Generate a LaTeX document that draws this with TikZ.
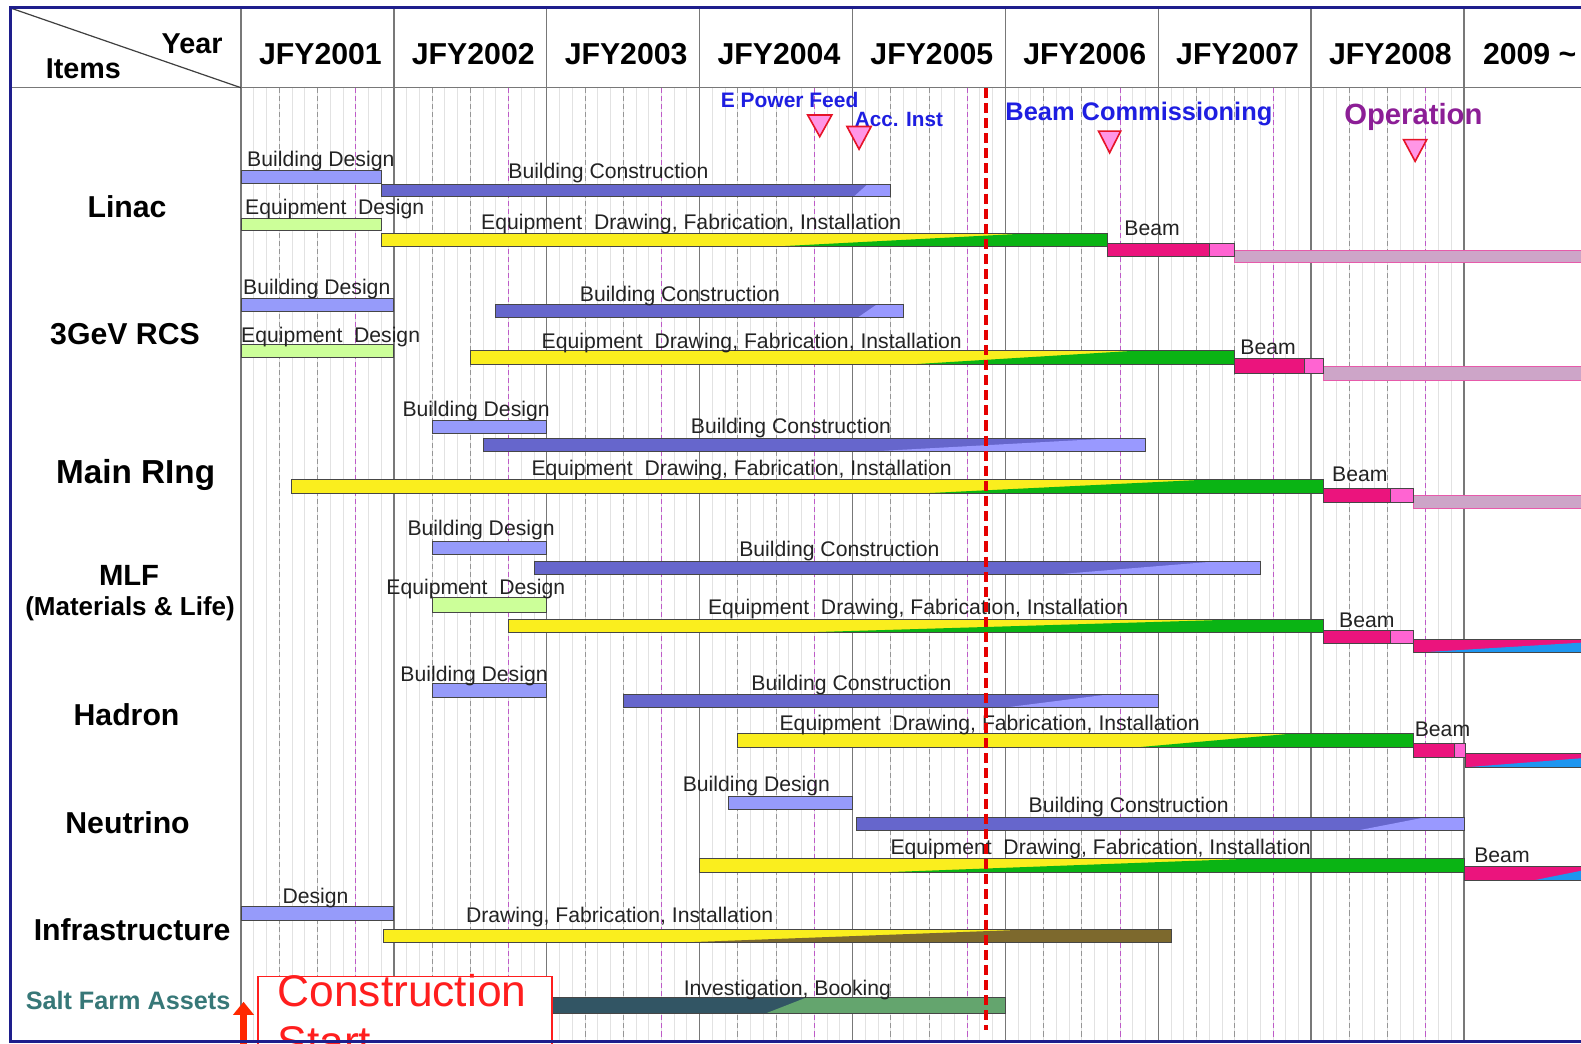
\documentclass[tikz,border=0pt]{standalone}
\usepackage{fontspec}
\setmainfont{Liberation Sans}
\usetikzlibrary{arrows.meta}
\definecolor{lblue}{RGB}{150,155,250}
\definecolor{dblue}{RGB}{102,102,204}
\definecolor{wblue}{RGB}{153,153,255}
\definecolor{lgreen}{RGB}{204,255,153}
\definecolor{yel}{RGB}{250,238,30}
\definecolor{grn}{RGB}{10,180,20}
\definecolor{mag}{RGB}{235,20,125}
\definecolor{pnk}{RGB}{255,100,210}
\definecolor{mauve}{RGB}{205,165,200}
\definecolor{mauveln}{RGB}{230,90,170}
\definecolor{sky}{RGB}{30,150,240}
\definecolor{olive}{RGB}{125,105,45}
\definecolor{sdark}{RGB}{50,85,100}
\definecolor{sgreen}{RGB}{100,165,110}
\definecolor{trifill}{RGB}{255,150,230}
\definecolor{triline}{RGB}{230,20,40}
\definecolor{navy}{RGB}{30,30,140}
\definecolor{gyear}{RGB}{120,120,120}
\definecolor{gmonth}{RGB}{226,226,226}
\definecolor{gq}{RGB}{150,150,150}
\definecolor{gmag}{RGB}{190,90,200}
\definecolor{lbltxt}{RGB}{35,35,35}
\definecolor{teal2}{RGB}{55,120,120}
\definecolor{ebl}{RGB}{30,30,225}
\definecolor{oper}{RGB}{140,30,150}
\definecolor{cred}{RGB}{255,30,30}
\definecolor{arred}{RGB}{255,40,0}
\definecolor{barln}{RGB}{70,70,70}
\newcommand\fs[1]{\fontsize{#1}{#1}\selectfont}
\newcommand\wbar[8]{%
  \fill[#5] (#1,#3) rectangle (#2,#4);
  \begin{scope}\clip (#1,#3) rectangle (#2,#4);
  \fill[#6] (#7,#4) -- (#8,#3) -- (200,#3) -- (200,#4) -- cycle;
  \end{scope}
  \draw[barline] (#1,#3) rectangle (#2,#4);}
\newcommand\beambar[5]{%
  \draw[barline,fill=mag] (#1,#4) rectangle (#2,#5);
  \draw[barline,fill=pnk] (#2,#4) rectangle (#3,#5);}
\newcommand\mauvebar[3]{\draw[draw=mauveln,line width=1pt,fill=mauve] (#1,#2) rectangle (112,#3);}
\tikzset{
  lbl/.style={anchor=west,inner sep=0pt,font=\fs{21},text=lbltxt,text height=15pt,text depth=0pt},
  rowl/.style={inner sep=0pt,font=\bfseries\fs{30},text height=21.5pt,text depth=0pt},
  ms/.style={anchor=west,inner sep=0pt,text height=15pt,text depth=0pt},
  barline/.style={draw=barln,line width=0.9pt},
  mline/.style={draw=gmonth,line width=0.8pt},
  qline/.style={draw=gq,line width=0.8pt,dash pattern=on 5pt off 3pt},
  jline/.style={draw=gmag,line width=0.8pt,dash pattern=on 5pt off 3pt},
  yline/.style={draw=gyear,line width=1.3pt},
  tri/.style={fill=trifill,draw=triline,line width=1.6pt,line join=miter},
  reddash/.style={draw=red!90!black,line width=4pt,dash pattern=on 10pt off 5pt},
  redarrow/.style={draw=arred,line width=6pt,-{Triangle[length=13pt,width=20pt]}},
}
\begin{document}
\begin{tikzpicture}[x=1pt,y=-1pt]
\useasboundingbox (0,0) rectangle (1568,1035);
\begin{scope}
\clip (0,0) rectangle (1568,1035);
\fill[white] (0,0) rectangle (1568,1035);
\begin{scope}[xshift=239pt,x=12.635pt]
  \foreach \k in {1,...,95} \draw[mline] (\k,87) -- (\k,1033);
  \foreach \yy in {0,...,7} {
    \draw[qline] (12*\yy+3,87) -- (12*\yy+3,1033);
    \draw[qline] (12*\yy+6,87) -- (12*\yy+6,1033);
    \draw[jline] (12*\yy+9,87) -- (12*\yy+9,1033);
  }
  \foreach \yy in {0,...,8} \draw[yline] (12*\yy,7) -- (12*\yy,1033);
  % Linac
  \draw[barline,fill=lblue] (0,169.5) rectangle (11,182);
  \wbar{11}{51}{182.5}{195}{dblue}{wblue}{48.1}{49.2}
  \draw[barline,fill=lgreen] (0,216.5) rectangle (11,229);
  \wbar{11}{68}{231.5}{244}{yel}{grn}{42.7}{61.8}
  \mauvebar{78}{248}{260}
  \beambar{68}{76}{78}{241}{254}
  % RCS
  \draw[barline,fill=lblue] (0,296) rectangle (12,308.5);
  \wbar{20}{52}{302}{315}{dblue}{wblue}{48.4}{49.9}
  \draw[barline,fill=lgreen] (0,342) rectangle (12,354.5);
  \wbar{18}{78}{348}{361}{yel}{grn}{53.1}{70}
  \mauvebar{85}{363}{377}
  \beambar{78}{83.5}{85}{356}{370}
  % Main Ring
  \draw[barline,fill=lblue] (15,417) rectangle (24,430);
  \wbar{19}{71}{435}{448}{dblue}{wblue}{49.1}{68}
  \wbar{4}{85}{476}{489}{yel}{grn}{54}{75.3}
  \mauvebar{92}{491.5}{504}
  \beambar{85}{90.25}{92}{484}{498}
  % MLF
  \draw[barline,fill=lblue] (15,537) rectangle (24,550);
  \wbar{23}{80}{557}{570}{dblue}{wblue}{63.7}{76.3}
  \draw[barline,fill=lgreen] (15,593) rectangle (24,607);
  \wbar{21}{85}{614}{627.5}{yel}{grn}{43.4}{79.3}
  \wbar{92}{112}{634}{647.5}{mag}{sky}{92}{109.6}
  \beambar{85}{90.25}{92}{625}{638.5}
  % Hadron
  \draw[barline,fill=lblue] (15,678) rectangle (24,692);
  \wbar{30}{72}{689}{702}{dblue}{wblue}{59.8}{67.9}
  \wbar{39}{92}{727}{741}{yel}{grn}{70.5}{83}
  \wbar{96.1}{112}{747}{761}{mag}{sky}{96.1}{110.3}
  \beambar{92}{95.25}{96.1}{737}{751}
  % Neutrino
  \draw[barline,fill=lblue] (38.25,790) rectangle (48,803);
  \wbar{48.3}{96}{811}{824}{dblue}{wblue}{87.5}{92.8}
  \wbar{36}{96}{851}{865}{yel}{grn}{50.7}{80.6}
  \wbar{96}{112}{859}{873}{mag}{sky}{101.5}{107}
  % Infrastructure
  \draw[barline,fill=lblue] (0,898.5) rectangle (12,913);
  \wbar{11.2}{73}{921.5}{935}{yel}{olive}{34}{62.7}
  % Salt farm
  \wbar{18}{60}{989}{1005}{sdark}{sgreen}{41.2}{44.45}
\end{scope}
% bar labels
\node[lbl] (a1) at (245,158) {Building Design};
\node[lbl] (a2) at (504,169.5) {Building Construction};
\node[lbl] (a3) at (243,205) {Equipment\ \ Design};
\node[lbl] (a4) at (477,220) {Equipment\ \ Drawing, Fabrication, Installation};
\node[lbl] (a5) at (1115,226) {Beam};
\node[lbl] (b1) at (241,285) {Building Design};
\node[lbl] (b2) at (575,292) {Building Construction};
\node[lbl] (b3) at (239,332) {Equipment\ \ Design};
\node[lbl] (b4) at (537,338) {Equipment\ \ Drawing, Fabrication, Installation};
\node[lbl] (b5) at (1230,344) {Beam};
\node[lbl] (c1) at (399,406) {Building Design};
\node[lbl] (c2) at (685,422) {Building Construction};
\node[lbl] (c4) at (527,464) {Equipment\ \ Drawing, Fabrication, Installation};
\node[lbl] (c5) at (1321,470) {Beam};
\node[lbl] (d1) at (404,524) {Building Design};
\node[lbl] (d2) at (733,544) {Building Construction};
\node[lbl] (d3) at (383,582) {Equipment\ \ Design};
\node[lbl] (d4) at (702,602) {Equipment\ \ Drawing, Fabrication, Installation};
\node[lbl] (d5) at (1328,615) {Beam};
\node[lbl] (e1) at (397,668) {Building Design};
\node[lbl] (e2) at (745,677) {Building Construction};
\node[lbl] (e4) at (773,717) {Equipment\ \ Drawing, Fabrication, Installation};
\node[lbl] (e5) at (1403,723) {Beam};
\node[lbl] (f1) at (677,777) {Building Design};
\node[lbl] (f2) at (1020,798) {Building Construction};
\node[lbl] (f4) at (883,840) {Equipment\ \ Drawing, Fabrication, Installation};
\node[lbl] (f5) at (1462,848) {Beam};
\node[lbl] (g1) at (280,889) {Design};
\node[lbl] (g2) at (462,907) {Drawing, Fabrication, Installation};
\node[lbl] (h1) at (678,980) {Investigation, Booking};
% milestones
\node[ms,font=\bfseries\fs{20.8},text=ebl] (epf) at (714.7,99.5) {E Power Feed};
\node[ms,font=\bfseries\fs{20.5},text=ebl] (acc) at (847.6,117.8) {Acc. Inst};
\node[ms,font=\bfseries\fs{25.2},text=ebl,text height=18pt] (bcm) at (997,111) {Beam Commissioning};
\node[ms,font=\bfseries\fs{29},text=oper,text height=21pt] (opr) at (1333,112.5) {Operation};
\draw[tri] (801,114) -- (825,114) -- (813,135.5) -- cycle;
\draw[tri] (840,125.5) -- (864,125.5) -- (852,148) -- cycle;
\draw[tri] (1089.5,130) -- (1111.5,130) -- (1100.5,151.5) -- cycle;
\draw[tri] (1392,138.5) -- (1415,138.5) -- (1403.5,160) -- cycle;
% today line
\draw[reddash] (978,87) -- (978,1022);
% construction start
\draw[draw=cred,line width=1.5pt,fill=white] (255.7,968.6) rectangle (547.7,1100);
\node[anchor=north west,inner sep=0pt,align=left,text=cred,font=\fontsize{44}{50}\selectfont] (cs) at (275,966.5) {Construction\\Start};
\coordinate (atail) at (241.5,1050);
\coordinate (atip) at (241.5,993.5);
\draw[redarrow] (atail) -- (atip);
% header
\draw[draw=gyear,line width=1.3pt] (10.6,87) -- (1575,87);
\draw[draw=black!75,line width=1.2pt] (12,8.5) -- (239,87);
\node[rowl,font=\bfseries\fs{28.5},text height=20.5pt] (yr) at (190.5,43) {Year};
\node[rowl,font=\bfseries\fs{28.5},text height=20.5pt] (it) at (82.7,67.8) {Items};
\foreach \i/\t in {0/JFY2001,1/JFY2002,2/JFY2003,3/JFY2004,4/JFY2005,5/JFY2006,6/JFY2007,7/JFY2008}
  \node[rowl] (yh\i) at ({242+151.6*(\i+0.5)},52.8) {\t};
\node[rowl,anchor=west] (yh8) at (1470.6,52.8) {2009 \textasciitilde};
% row labels
\node[rowl] (r1) at (126,205) {Linac};
\node[rowl] (r2) at (124,330.5) {3GeV RCS};
\node[rowl,font=\bfseries\fs{33},text height=23.6pt] (r3) at (134.5,468) {Main RIng};
\node[rowl,font=\bfseries\fs{29}] (r4) at (128,570) {MLF};
\node[rowl,font=\bfseries\fs{25.8},text height=18.5pt] (r4b) at (129,601.5) {(Materials \& Life)};
\node[rowl] (r5) at (125.5,709) {Hadron};
\node[rowl] (r6) at (126.5,816) {Neutrino};
\node[rowl] (r7) at (131,922) {Infrastructure};
\node[rowl,font=\bfseries\fs{25},text height=18pt,text=teal2] (r8) at (127,992) {Salt Farm Assets};
% frame
\draw[draw=navy,line width=3pt] (1575,7) -- (10.6,7) -- (10.6,1033) -- (1575,1033);
\end{scope}
\end{tikzpicture}
\end{document}
